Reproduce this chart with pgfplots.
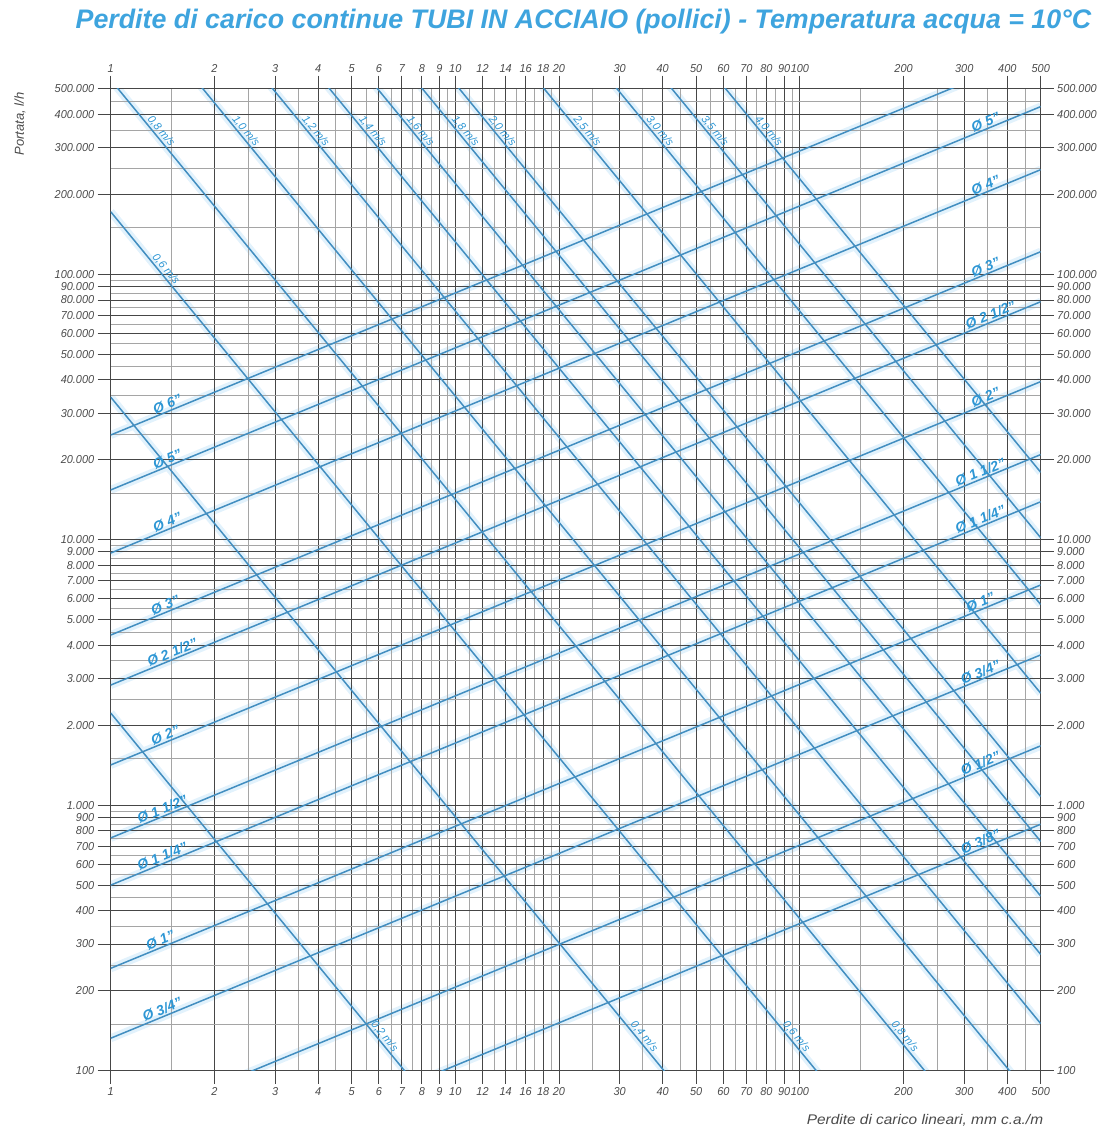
\documentclass[border=0pt]{standalone}
\usepackage{pgfplots}
\pgfplotsset{compat=1.18}
\usepackage{fontspec}
\setmainfont{Liberation Sans}
\newfontfamily\tickfont{Liberation Sans}[FakeStretch=0.95]
\newfontfamily\widefont{Liberation Sans}[FakeStretch=1.1]
\definecolor{lineblue}{RGB}{66,142,192}
\definecolor{halo}{RGB}{226,242,252}
\definecolor{labblue}{RGB}{45,150,212}
\definecolor{titleblue}{RGB}{62,164,222}
\definecolor{gmaj}{RGB}{70,70,70}
\definecolor{gmin}{RGB}{165,165,165}
\definecolor{tickcol}{RGB}{75,75,75}
\begin{document}
\begin{tikzpicture}
\path (-110.7pt,-59.3pt) rectangle (993.3pt,1070.7pt);
\begin{axis}[
    set layers, clip mode=individual,
    scale only axis, width=930pt, height=982pt,
    at={(0pt,0pt)}, anchor=south west,
    xmode=log, ymode=log, xmin=1, xmax=500, ymin=100, ymax=500000,
    xtick={1,2,3,4,5,6,7,8,9,10,12,14,16,18,20,30,40,50,60,70,80,90,100,200,300,400,500},
    xticklabels={1,2,3,4,5,6,7,8,9,10,12,14,16,18,20,30,40,50,60,70,80,90,100,200,300,400,500},
    ytick={100,200,300,400,500,600,700,800,900,1000,2000,3000,4000,5000,6000,7000,8000,9000,10000,20000,30000,40000,50000,60000,70000,80000,90000,100000,200000,300000,400000,500000},
    yticklabels={100,200,300,400,500,600,700,800,900,1.000,2.000,3.000,4.000,5.000,6.000,7.000,8.000,9.000,10.000,20.000,30.000,40.000,50.000,60.000,70.000,80.000,90.000,100.000,200.000,300.000,400.000,500.000},
    tick align=outside, major tick length=13pt, minor tick length=0pt,
    tick label style={font=\tickfont\itshape\fontsize{11.5}{13}\selectfont, text=tickcol},
  minor xtick={1.5,2.5,3.5,4.5,5.5,6.5,7.5,8.5,9.5,11,13,15,17,19,25,35,45,55,65,75,85,95,150,250,350,450},
  minor ytick={150,250,350,450,550,650,750,850,950,1500,2500,3500,4500,5500,6500,7500,8500,9500,15000,25000,35000,45000,55000,65000,75000,85000,95000,150000,250000,350000,450000},
  grid=both,
  major grid style={line width=0.9pt, draw=gmaj},
  minor grid style={line width=0.6pt, draw=gmin},
  tick style={line width=0.9pt, draw=gmaj},
  axis line style={line width=0.9pt, draw=gmaj},
  xticklabel pos=left, yticklabel pos=left,
]
% light halo under the lines (background layer)
\addplot[halo, line width=8pt, on layer=axis background] coordinates {(1,2225) (500,0.1210)};
\addplot[halo, line width=8pt, on layer=axis background] coordinates {(1,34450) (500,1.874)};
\addplot[halo, line width=8pt, on layer=axis background] coordinates {(1,172000) (500,9.355)};
\addplot[halo, line width=8pt, on layer=axis background] coordinates {(1,540000) (500,29.37)};
\addplot[halo, line width=8pt, on layer=axis background] coordinates {(1,1322500) (500,71.93)};
\addplot[halo, line width=8pt, on layer=axis background] coordinates {(1,2765000) (500,150.4)};
\addplot[halo, line width=8pt, on layer=axis background] coordinates {(1,5040000) (500,274.1)};
\addplot[halo, line width=8pt, on layer=axis background] coordinates {(1,8360000) (500,454.7)};
\addplot[halo, line width=8pt, on layer=axis background] coordinates {(1,13430000) (500,730.5)};
\addplot[halo, line width=8pt, on layer=axis background] coordinates {(1,19830000) (500,1078.6)};
\addplot[halo, line width=8pt, on layer=axis background] coordinates {(1,48550000) (500,2640.6)};
\addplot[halo, line width=8pt, on layer=axis background] coordinates {(1,104800000) (500,5700)};
\addplot[halo, line width=8pt, on layer=axis background] coordinates {(1,187000000) (500,10171)};
\addplot[halo, line width=8pt, on layer=axis background] coordinates {(1,330000000) (500,17949)};
\addplot[halo, line width=8pt, on layer=axis background] coordinates {(1,24800) (500,689400)};
\addplot[halo, line width=8pt, on layer=axis background] coordinates {(1,15400) (500,428100)};
\addplot[halo, line width=8pt, on layer=axis background] coordinates {(1,8910) (500,247700)};
\addplot[halo, line width=8pt, on layer=axis background] coordinates {(1,4375) (500,121600)};
\addplot[halo, line width=8pt, on layer=axis background] coordinates {(1,2835) (500,78810)};
\addplot[halo, line width=8pt, on layer=axis background] coordinates {(1,1418) (500,39420)};
\addplot[halo, line width=8pt, on layer=axis background] coordinates {(1,753) (500,20930)};
\addplot[halo, line width=8pt, on layer=axis background] coordinates {(1,500) (500,13900)};
\addplot[halo, line width=8pt, on layer=axis background] coordinates {(1,243) (500,6755)};
\addplot[halo, line width=8pt, on layer=axis background] coordinates {(1,132.5) (500,3684)};
\addplot[halo, line width=8pt, on layer=axis background] coordinates {(1,60.2) (500,1674)};
\addplot[halo, line width=8pt, on layer=axis background] coordinates {(1,30.5) (500,847.9)};
% velocity lines (m/s)
\addplot[lineblue, line width=1.5pt] coordinates {(1,2225) (500,0.1210)};      % 0,2
\addplot[lineblue, line width=1.5pt] coordinates {(1,34450) (500,1.874)};      % 0,4
\addplot[lineblue, line width=1.5pt] coordinates {(1,172000) (500,9.355)};     % 0,6
\addplot[lineblue, line width=1.5pt] coordinates {(1,540000) (500,29.37)};     % 0,8
\addplot[lineblue, line width=1.5pt] coordinates {(1,1322500) (500,71.93)};    % 1,0
\addplot[lineblue, line width=1.5pt] coordinates {(1,2765000) (500,150.4)};    % 1,2
\addplot[lineblue, line width=1.5pt] coordinates {(1,5040000) (500,274.1)};    % 1,4
\addplot[lineblue, line width=1.5pt] coordinates {(1,8360000) (500,454.7)};    % 1,6
\addplot[lineblue, line width=1.5pt] coordinates {(1,13430000) (500,730.5)};   % 1,8
\addplot[lineblue, line width=1.5pt] coordinates {(1,19830000) (500,1078.6)};  % 2,0
\addplot[lineblue, line width=1.5pt] coordinates {(1,48550000) (500,2640.6)};  % 2,5
\addplot[lineblue, line width=1.5pt] coordinates {(1,104800000) (500,5700)};   % 3,0
\addplot[lineblue, line width=1.5pt] coordinates {(1,187000000) (500,10171)};  % 3,5
\addplot[lineblue, line width=1.5pt] coordinates {(1,330000000) (500,17949)};  % 4,0
% pipe lines
\addplot[lineblue, line width=1.5pt] coordinates {(1,24800) (500,689400)};   % 6"
\addplot[lineblue, line width=1.5pt] coordinates {(1,15400) (500,428100)};   % 5"
\addplot[lineblue, line width=1.5pt] coordinates {(1,8910) (500,247700)};    % 4"
\addplot[lineblue, line width=1.5pt] coordinates {(1,4375) (500,121600)};    % 3"
\addplot[lineblue, line width=1.5pt] coordinates {(1,2835) (500,78810)};     % 2 1/2"
\addplot[lineblue, line width=1.5pt] coordinates {(1,1418) (500,39420)};     % 2"
\addplot[lineblue, line width=1.5pt] coordinates {(1,753) (500,20930)};      % 1 1/2"
\addplot[lineblue, line width=1.5pt] coordinates {(1,500) (500,13900)};      % 1 1/4"
\addplot[lineblue, line width=1.5pt] coordinates {(1,243) (500,6755)};       % 1"
\addplot[lineblue, line width=1.5pt] coordinates {(1,132.5) (500,3684)};     % 3/4"
\addplot[lineblue, line width=1.5pt] coordinates {(1,60.2) (500,1674)};      % 1/2"
\addplot[lineblue, line width=1.5pt] coordinates {(1,30.5) (500,847.9)};     % 3/8"
% velocity labels
\begin{scope}[every node/.append style={rotate=-50.5, anchor=south, inner sep=1.5pt, text=labblue, font=\itshape\fontsize{11}{12}\selectfont}]
\node at (axis cs:1.355,334500) {0,8 m/s};
\node at (axis cs:2.388,334500) {1,0 m/s};
\node at (axis cs:3.807,334500) {1,2 m/s};
\node at (axis cs:5.568,334500) {1,4 m/s};
\node at (axis cs:7.669,334500) {1,6 m/s};
\node at (axis cs:10.35,334500) {1,8 m/s};
\node at (axis cs:13.25,334500) {2,0 m/s};
\node at (axis cs:23.35,334500) {2,5 m/s};
\node at (axis cs:38.0,334500) {3,0 m/s};
\node at (axis cs:54.8,334500) {3,5 m/s};
\node at (axis cs:78.6,334500) {4,0 m/s};
\node at (axis cs:1.40,101100) {0,6 m/s};
\node at (axis cs:6.03,130) {0,2 m/s};
\node at (axis cs:34.2,130) {0,4 m/s};
\node at (axis cs:94.6,130) {0,6 m/s};
\node at (axis cs:195.1,130) {0,8 m/s};
\end{scope}
% pipe labels
\begin{scope}[every node/.append style={rotate=22.4, anchor=south, inner sep=1.5pt, text=labblue, font=\bfseries\itshape\fontsize{14}{16}\selectfont}]
\node at (axis cs:1.485,30650) {Ø 6"};
\node at (axis cs:1.485,19030) {Ø 5"};
\node at (axis cs:1.485,11010) {Ø 4"};
\node at (axis cs:1.466,5370) {Ø 3"};
\node at (axis cs:1.535,3565) {Ø 2 1/2"};
\node at (axis cs:1.466,1740) {Ø 2"};
\node at (axis cs:1.436,914) {Ø 1 1/2"};
\node at (axis cs:1.436,607) {Ø 1 1/4"};
\node at (axis cs:1.417,293) {Ø 1"};
\node at (axis cs:1.436,160.8) {Ø 3/4"};
\node at (axis cs:352,354700) {Ø 5"};
\node at (axis cs:352,205200) {Ø 4"};
\node at (axis cs:352,100760) {Ø 3"};
\node at (axis cs:364,66480) {Ø 2 1/2"};
\node at (axis cs:352,32660) {Ø 2"};
\node at (axis cs:340,17025) {Ø 1 1/2"};
\node at (axis cs:340,11305) {Ø 1 1/4"};
\node at (axis cs:340,5494) {Ø 1"};
\node at (axis cs:340,2996) {Ø 3/4"};
\node at (axis cs:340,1361) {Ø 1/2"};
\node at (axis cs:340,689.6) {Ø 3/8"};
\end{scope}
\end{axis}
\begin{axis}[
    scale only axis, width=930pt, height=982pt,
    at={(0pt,0pt)}, anchor=south west,
    xmode=log, ymode=log, xmin=1, xmax=500, ymin=100, ymax=500000,
    xtick={1,2,3,4,5,6,7,8,9,10,12,14,16,18,20,30,40,50,60,70,80,90,100,200,300,400,500},
    xticklabels={1,2,3,4,5,6,7,8,9,10,12,14,16,18,20,30,40,50,60,70,80,90,100,200,300,400,500},
    ytick={100,200,300,400,500,600,700,800,900,1000,2000,3000,4000,5000,6000,7000,8000,9000,10000,20000,30000,40000,50000,60000,70000,80000,90000,100000,200000,300000,400000,500000},
    yticklabels={100,200,300,400,500,600,700,800,900,1.000,2.000,3.000,4.000,5.000,6.000,7.000,8.000,9.000,10.000,20.000,30.000,40.000,50.000,60.000,70.000,80.000,90.000,100.000,200.000,300.000,400.000,500.000},
    tick align=outside, major tick length=13pt, minor tick length=0pt,
    tick label style={font=\tickfont\itshape\fontsize{11.5}{13}\selectfont, text=tickcol},
  xticklabel pos=right, yticklabel pos=right,
  axis line style={draw=none}, tick style={draw=none},
]
\addplot[draw=none] coordinates {(1,100) (500,500000)};
\end{axis}
\node[font=\bfseries\itshape\fontsize{26.8}{31}\selectfont, text=titleblue] at (472.8pt,1048.7pt) {Perdite di carico continue TUBI IN ACCIAIO (pollici) - Temperatura acqua = 10°C};
\node[font=\widefont\itshape\fontsize{14}{16}\selectfont, text=tickcol] at (814.3pt,-49.3pt) {Perdite di carico lineari, mm c.a./m};
\node[rotate=90, font=\itshape\fontsize{13}{15}\selectfont, text=tickcol] at (-90.7pt,946.7pt) {Portata, l/h};
\end{tikzpicture}
\end{document}
